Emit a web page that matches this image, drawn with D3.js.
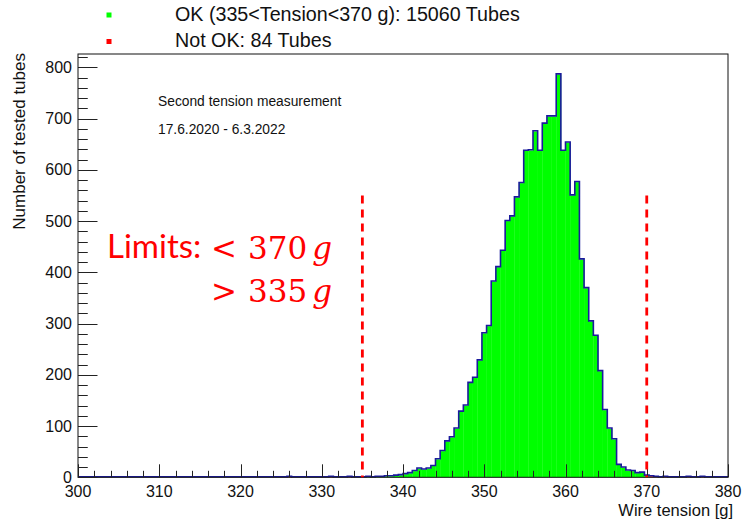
<!DOCTYPE html>
<html>
<head>
<meta charset="utf-8">
<script src="https://cdn.jsdelivr.net/npm/d3@7"></script>
<style>
  html, body { margin: 0; padding: 0; background: #fff; }
  svg { display: block; }
</style>
</head>
<body>
<svg id="chart" width="743" height="519"></svg>
<script>
// ---------------- data ----------------
const xRange = [300, 380];          // histogram range [g]
const nBins = 140;                  // number of bins
const tubeCounts = [
  0,0,0,0,0,0,0,0,0,0,
  0,0,0,0,0,0,0,0,0,0,
  0,0,0,0,0,0,0,0,0,0,
  0,0,0,0,0,0,0,0,0,0,
  0,0,0,0,0,1,0,0,0,0,
  0,0,0,0,1,0,0,0,1,0,
  0,0,1,0,1,1,2,2,3,4,
  6,8,12,17,15,17,22,35,51,70,
  78,95,128,140,184,194,228,281,295,382,
  410,442,500,509,546,574,637,638,675,637,
  690,704,704,786,637,653,550,576,425,369,
  304,276,207,131,95,74,24,19,13,12,
  8,9,3,2,1,0,1,0,0,0,
  0,1,0,0,1,0,0,0,0,0
];
const limits = [335, 370];
const limitLineTop = 550;
const yMax = 826;
const xTickValues = [300, 310, 320, 330, 340, 350, 360, 370, 380];
const yTickValues = [0, 100, 200, 300, 400, 500, 600, 700, 800];
const legendLabels = ["OK (335<Tension<370 g): 15060 Tubes", "Not OK: 84 Tubes"];
const infoLines = ["Second tension measurement", "17.6.2020 - 6.3.2022"];
const xTitle = "Wire tension [g]";
const yTitle = "Number of tested tubes";

// ---------------- layout ----------------
const SANS = "'Liberation Sans', Arial, sans-serif";
const svg = d3.select("#chart");
const L = 78, R = 728, T = 54, B = 477.3;
const x = d3.scaleLinear().domain(xRange).range([L, R]);
const y = d3.scaleLinear().domain([0, yMax]).range([B, T]);
const binW = (xRange[1] - xRange[0]) / nBins;
const bins = tubeCounts.map((c, i) => {
  const x0 = xRange[0] + i * binW, x1 = x0 + binW;
  const mid = (x0 + x1) / 2;
  return { x0, x1, c, ok: mid > limits[0] && mid < limits[1] + 0.3 };
});

const GREEN = "#00ff00", RED = "#ff0000", BLUE = "#1a1a9c";

// bars
svg.append("g").selectAll("rect").data(bins.filter(b => b.c > 0)).join("rect")
  .attr("x", d => x(d.x0))
  .attr("width", d => x(d.x1) - x(d.x0) + 0.3)
  .attr("y", d => y(d.c))
  .attr("height", d => y(0) - y(d.c))
  .attr("fill", d => d.ok ? GREEN : RED);

// outline (step)
const pts = [[xRange[0], 0]];
bins.forEach(b => pts.push([b.x0, b.c]));
pts.push([xRange[1], bins[bins.length - 1].c]);
pts.push([xRange[1], 0]);
svg.append("path")
  .attr("d", d3.line().x(d => x(d[0])).y(d => y(d[1]) - 0.6).curve(d3.curveStepAfter)(pts))
  .attr("fill", "none").attr("stroke", BLUE).attr("stroke-width", 1.6);

// frame
svg.append("rect").attr("x", L).attr("y", T).attr("width", R - L).attr("height", B - T)
  .attr("fill", "none").attr("stroke", "#111").attr("stroke-width", 1);

// ticks
const tickG = svg.append("g").attr("stroke", "#222").attr("stroke-width", 1);
d3.range(0, yMax, 20).forEach(v => {
  const major = v % 100 === 0;
  tickG.append("line").attr("x1", L).attr("x2", L + (major ? 19.5 : 9.75))
    .attr("y1", Math.round(y(v)) + 0.5).attr("y2", Math.round(y(v)) + 0.5);
});
d3.range(xRange[0], xRange[1] + 0.01, 2).forEach(v => {
  const major = v % 10 === 0;
  tickG.append("line").attr("y1", B).attr("y2", B - (major ? 13 : 6.5))
    .attr("x1", Math.round(x(v)) + 0.5).attr("x2", Math.round(x(v)) + 0.5);
});

// tick labels
svg.append("g").selectAll("text").data(yTickValues).join("text")
  .attr("x", L - 6).attr("y", d => y(d)).attr("dy", "0.35em")
  .attr("text-anchor", "end").style("font-family", SANS).style("font-size", "16px").attr("fill", "#111")
  .text(d => d);
svg.append("g").selectAll("text").data(xTickValues).join("text")
  .attr("x", d => x(d)).attr("y", 497)
  .attr("text-anchor", "middle").style("font-family", SANS).style("font-size", "16px").attr("fill", "#111")
  .text(d => d);

// axis titles
svg.append("text").attr("x", 733).attr("y", 515.5).attr("text-anchor", "end")
  .style("font-family", SANS).style("font-size", "16.5px").attr("fill", "#111").text(xTitle);
svg.append("text").attr("transform", `translate(25,${T - 1}) rotate(-90)`)
  .attr("text-anchor", "end").style("font-family", SANS).style("font-size", "17px")
  .attr("fill", "#111").text(yTitle);

// limit lines
svg.append("g").selectAll("line").data(limits).join("line")
  .attr("x1", d => x(d)).attr("x2", d => x(d))
  .attr("y1", y(limitLineTop)).attr("y2", y(0))
  .attr("stroke", RED).attr("stroke-width", 2.8).attr("stroke-dasharray", "8,6");

// legend
const legColors = [GREEN, RED];
legendLabels.forEach((t, i) => {
  const cy = 15 + i * 26.5;
  svg.append("rect").attr("x", 106.5).attr("y", cy - 2.5).attr("width", 5).attr("height", 5)
    .attr("fill", legColors[i]);
  svg.append("text").attr("x", 175).attr("y", cy + 5.7)
    .style("font-family", SANS).style("font-size", "19.7px")
    .attr("fill", "#111").text(t);
});

// info text
infoLines.forEach((t, i) => {
  svg.append("text").attr("x", 158).attr("y", 106 + i * 28)
    .style("font-family", SANS).style("font-size", "13.8px")
    .attr("fill", "#111").text(t);
});

// limits annotation
svg.append("text").attr("x", 107).attr("y", 258)
  .style("font-family", "Lato, 'Open Sans', sans-serif").style("font-size", "33px")
  .attr("fill", RED).text("Limits:");
const mathLines = [["<", "370"], [">", "335"]];
mathLines.forEach((m, i) => {
  const t = svg.append("text").attr("x", 211).attr("y", 259 + i * 43)
    .style("font-family", "'DejaVu Serif', 'Liberation Serif', serif").style("font-size", "31px")
    .attr("fill", RED);
  t.append("tspan").text(m[0]);
  t.append("tspan").attr("dx", 11).text(m[1]);
  t.append("tspan").style("font-style", "italic").attr("dx", 5).text("g");
});
</script>
</body>
</html>
